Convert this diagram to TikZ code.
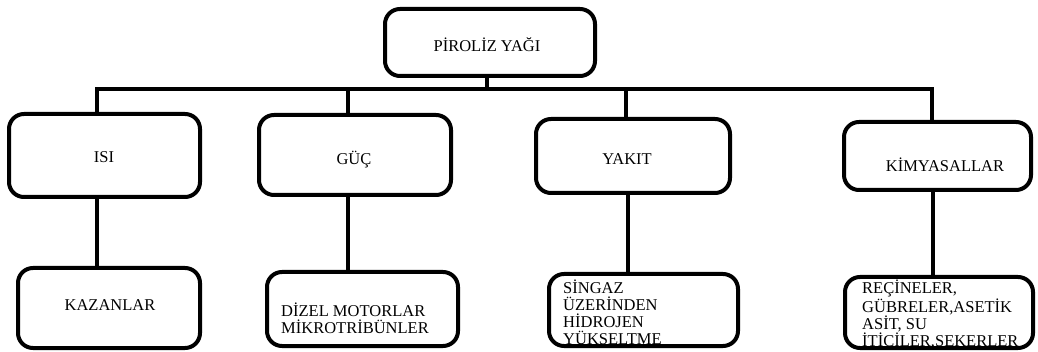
\documentclass[tikz,border=0pt]{standalone}
\usepackage{fontspec}
\setmainfont{Liberation Serif}
\begin{document}
\begin{tikzpicture}[x=1pt,y=-1pt,
  box/.style={draw=black,line width=4pt,rounded corners=15pt,inner sep=0pt,outer sep=0pt},
  lbl/.style={inner sep=0pt,font=\fontsize{16.5}{17}\selectfont},
  blk/.style={lbl,align=left,anchor=west},
  conn/.style={draw=black,line width=4pt,line join=miter}]
\useasboundingbox (0,0) rectangle (1038,352);
% boxes
\node[box,minimum width=210pt,minimum height=67pt] (pyr) at (490,42.5) {};
\node[box,minimum width=191pt,minimum height=83pt] (isi) at (104.5,155.5) {};
\node[box,minimum width=192pt,minimum height=80pt] (guc) at (355,155) {};
\node[box,minimum width=194pt,minimum height=74pt] (yak) at (633,156) {};
\node[box,minimum width=187pt,minimum height=68pt] (kim) at (937.5,156) {};
\node[box,minimum width=182pt,minimum height=80pt] (kaz) at (109,308) {};
\node[box,minimum width=191pt,minimum height=74pt] (diz) at (362.5,309) {};
\node[box,minimum width=189pt,minimum height=72pt] (sin) at (643.5,310) {};
\node[box,minimum width=188pt,minimum height=71pt] (rec) at (939,312.5) {};
% texts
\node[lbl] (tpyr) at (487,45) {PİROLİZ YAĞI};
\node[lbl] (tisi) at (104,157) {ISI};
\node[lbl] (tguc) at (354,160) {GÜÇ};
\node[lbl] (tyak) at (627,159) {YAKIT};
\node[lbl] (tkim) at (945,165) {KİMYASALLAR};
\node[lbl] (tkaz) at (110,305) {KAZANLAR};
\node[blk] (tdiz) at (281,318.5) {DİZEL MOTORLAR\\MİKROTRİBÜNLER};
\node[blk] (tsin) at (563,312) {SİNGAZ\\ÜZERİNDEN\\HİDROJEN\\YÜKSELTME};
\node[blk] (trec) at (862,315) {REÇİNELER,\\GÜBRELER,ASETİK\\ASİT, SU\\İTİCİLER,ŞEKERLER};
% x positions of stubs
\coordinate (bus) at (487,89);
\coordinate (x1) at (97,0);
\coordinate (x2) at (348,0);
\coordinate (x3) at (626,0);
\coordinate (x4) at (932,0);
\coordinate (y1) at (0,89);
% connectors
\draw[conn] (pyr.south -| bus) -- (bus);
\draw[conn] (isi.north -| x1) -- (x1 |- y1) -- (x4 |- y1) -- (kim.north -| x4);
\draw[conn] (x2 |- y1) -- (guc.north -| x2);
\draw[conn] (x3 |- y1) -- (yak.north -| x3);
\draw[conn] (isi.south -| x1) -- (kaz.north -| x1);
\draw[conn] (guc.south -| x2) -- (diz.north -| x2);
\draw[conn] ([xshift=2pt]yak.south -| x3) -- ([xshift=2pt]sin.north -| x3);
\draw[conn] ([xshift=1pt]kim.south -| x4) -- ([xshift=1pt]rec.north -| x4);
\end{tikzpicture}
\end{document}
